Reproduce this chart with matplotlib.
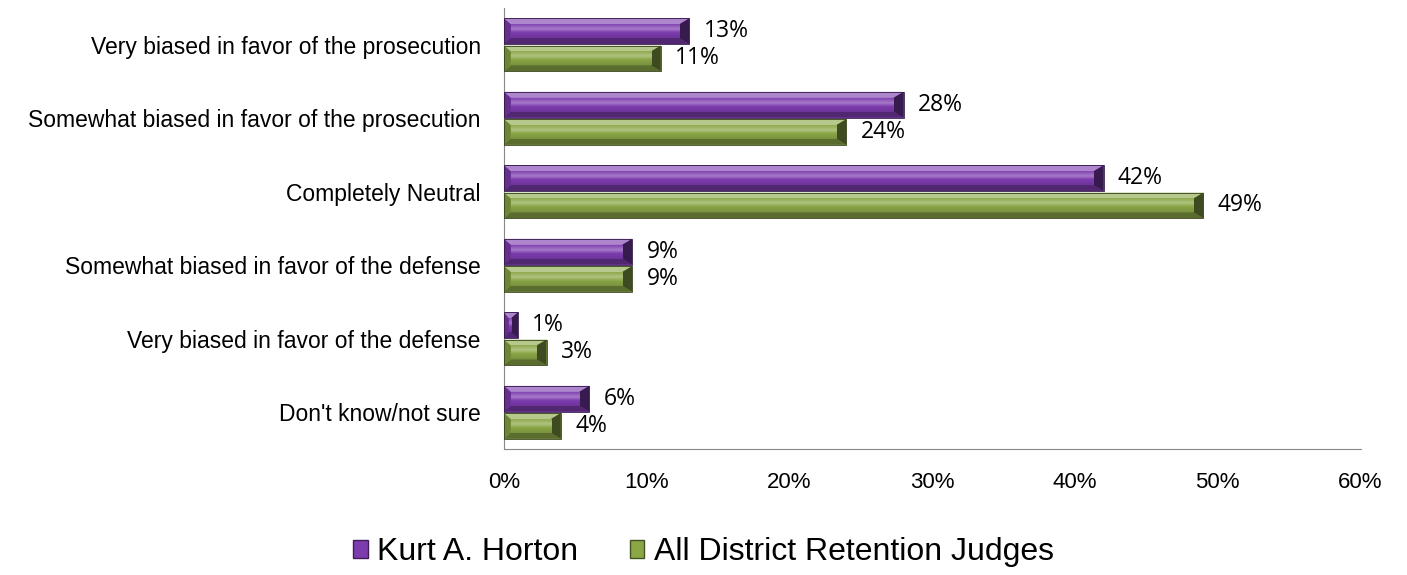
import numpy as np
import matplotlib.pyplot as plt
from matplotlib.colors import to_rgb
from matplotlib.patches import Patch, Polygon

categories = [
    "Very biased in favor of the prosecution",
    "Somewhat biased in favor of the prosecution",
    "Completely Neutral",
    "Somewhat biased in favor of the defense",
    "Very biased in favor of the defense",
    "Don't know/not sure",
]
horton = [13, 28, 42, 9, 1, 6]
all_judges = [11, 24, 49, 9, 3, 4]
series_names = ["Kurt A. Horton", "All District Retention Judges"]
xticks = [0, 10, 20, 30, 40, 50, 60]

purple = "#7d3cae"
green = "#8aa646"


def shade(c, f):
    r = np.array(to_rgb(c))
    if f > 0:
        return tuple(r + (1 - r) * f)
    return tuple(r * (1 + f))


def bevel(ax, bar, color, px_x, px_y):
    # Excel-like bevel: flat centre with four sloped faces
    x0, y0 = bar.get_x(), bar.get_y()
    w, h = bar.get_width(), bar.get_height()
    x1, y1 = x0 + w, y0 + h
    dx = min(10 / px_x, w / 2)
    dy = 6 / px_y
    ix0, ix1 = x0 + dx * 0.7, x1 - dx
    iy0, iy1 = y0 + dy, y1 - dy
    faces = [
        ([(x0, y0), (x1, y0), (ix1, iy0), (ix0, iy0)], 0.38),   # top
        ([(x0, y1), (x1, y1), (ix1, iy1), (ix0, iy1)], -0.35),  # bottom
        ([(x0, y0), (ix0, iy0), (ix0, iy1), (x0, y1)], -0.2),   # left
        ([(x1, y0), (ix1, iy0), (ix1, iy1), (x1, y1)], -0.55),  # right
    ]
    for pts, f in faces:
        ax.add_patch(Polygon(pts, closed=True, facecolor=shade(color, f),
                             edgecolor="none", zorder=3))
    t = np.linspace(0, 1, 30)
    fs = np.interp(t, [0, 0.35, 0.6, 1], [0.05, 0.32, 0.0, -0.12])
    img = np.array([[shade(color, f)] for f in fs])
    if ix1 > ix0:
        ax.imshow(img, extent=(ix0, ix1, iy1, iy0), aspect="auto",
                  interpolation="bilinear", zorder=3)
    ax.add_patch(plt.Rectangle((x0, y0), w, h, fill=False,
                               edgecolor=shade(color, -0.6), lw=0.6, zorder=4))


plt.rcParams["font.family"] = ["Liberation Sans", "DejaVu Sans"]
fig = plt.figure(figsize=(14.07, 5.75), dpi=100)
ax = fig.add_axes([0.358, 0.219, 0.609, 0.767])

y = np.arange(len(categories))
h = 0.35
off = 0.185
b1 = ax.barh(y - off, horton, height=h, color=purple, zorder=2)
b2 = ax.barh(y + off, all_judges, height=h, color=green, zorder=2)

ax.set_ylim(len(categories) - 0.5, -0.5)
ax.set_xlim(0, 60)
bb = ax.get_window_extent()
px_x = bb.width / 60
px_y = bb.height / len(categories)

for bars, vals, col in [(b1, horton, purple), (b2, all_judges, green)]:
    for bar, v in zip(bars, vals):
        bevel(ax, bar, col, px_x, px_y)
        ax.text(v + 1.0, bar.get_y() + bar.get_height() / 2, f"{v}%",
                va="center", ha="left", fontsize=16.5,
                family=["Open Sans", "DejaVu Sans"])

ax.set_yticks(y)
ax.set_yticklabels(categories, fontsize=16.5)
ax.set_xticks(xticks)
ax.set_xticklabels([f"{t}%" for t in xticks], fontsize=16)
ax.tick_params(axis="y", length=0, pad=16.5)
ax.tick_params(axis="x", length=0, pad=16.5)
for s in ["top", "right"]:
    ax.spines[s].set_visible(False)
ax.spines["left"].set_color("#888888")
ax.spines["bottom"].set_color("#888888")

handles = [Patch(facecolor=purple, edgecolor=shade(purple, -0.5)),
           Patch(facecolor=green, edgecolor=shade(green, -0.5))]
fig.legend(handles, series_names, loc="center", bbox_to_anchor=(0.5, 0.04),
           ncol=2, frameon=False, fontsize=23, handlelength=0.45, handleheight=0.5,
           handletextpad=0.3, columnspacing=1.6)

fig.savefig("out.png", dpi=100)
